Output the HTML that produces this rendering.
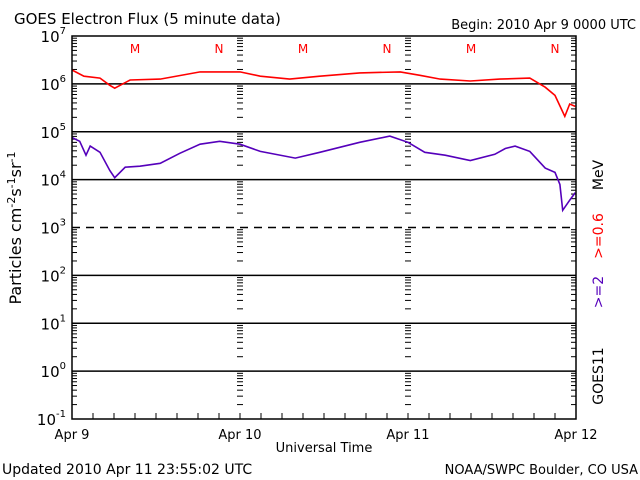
<!DOCTYPE html>
<html><head><meta charset="utf-8"><style>
body{margin:0;background:#fff;width:640px;height:480px;overflow:hidden}
svg{display:block;font-family:"DejaVu Sans","Liberation Sans",sans-serif}
</style></head><body>
<svg id="chart" width="640" height="480" xmlns="http://www.w3.org/2000/svg">
<text x="14" y="24" font-size="15">GOES Electron Flux (5 minute data)</text>
<text x="636" y="29" font-size="13" text-anchor="end">Begin: 2010 Apr 9 0000 UTC</text>
<g id="grid"></g>
<g id="marks"></g>
<rect x="72" y="36" width="504" height="383" fill="none" stroke="#000" stroke-width="1.5"/>
<text transform="translate(21,228) rotate(-90)" font-size="16" text-anchor="middle">Particles cm<tspan dy="-6" font-size="11">-2</tspan><tspan dy="6">s</tspan><tspan dy="-6" font-size="11">-1</tspan><tspan dy="6">sr</tspan><tspan dy="-6" font-size="11">-1</tspan></text>
<text x="324" y="452" font-size="13" text-anchor="middle">Universal Time</text>
<text transform="translate(603,376) rotate(-90)" font-size="14" text-anchor="middle" fill="#000">GOES11</text>
<text transform="translate(603,292) rotate(-90)" font-size="14" text-anchor="middle" fill="#5500bb">&gt;=2</text>
<text transform="translate(603,236) rotate(-90)" font-size="14" text-anchor="middle" fill="#ff0000">&gt;=0.6</text>
<text transform="translate(603,175) rotate(-90)" font-size="14" text-anchor="middle" fill="#000">MeV</text>
<text x="2" y="474" font-size="14">Updated 2010 Apr 11 23:55:02 UTC</text>
<text x="638" y="474" font-size="13" text-anchor="end">NOAA/SWPC Boulder, CO USA</text>
</svg>
<script>
const dayLabels = ["Apr 9","Apr 10","Apr 11","Apr 12"];
const decades = [7,6,5,4,3,2,1,0,-1];
const mnLabels = ["M","N","M","N","M","N"];
const mnHours = [9,21,33,45,57,69];
const redHours = [0,1.7,4,5.4,6.1,8.3,12.6,18.3,24,26.9,31.1,35.4,41.1,46.9,49.7,52.6,56.9,61.1,65.4,67.6,69,70.4,71.1,71.9];
const redLog = [6.29,6.16,6.12,5.97,5.91,6.08,6.10,6.25,6.25,6.16,6.10,6.16,6.23,6.25,6.18,6.10,6.06,6.10,6.12,5.93,5.76,5.32,5.58,5.53];
const purHours = [0,1.1,2,2.6,4,5.4,6.1,7.6,9.7,12.6,15.4,18.3,21.1,24,26.9,31.9,35.4,41.1,45.4,48,50.4,53.3,56.9,60.4,61.9,63.3,65.4,67.6,69,69.7,70.1,71.1,71.9];
const purLog = [4.88,4.80,4.51,4.70,4.57,4.19,4.04,4.26,4.28,4.34,4.55,4.74,4.80,4.74,4.59,4.45,4.57,4.78,4.91,4.78,4.57,4.51,4.40,4.53,4.65,4.70,4.59,4.24,4.15,3.90,3.36,3.57,3.73];

const X0=72,X1=576,Y0=36,Y1=419;
const xs=h=>X0+(X1-X0)*h/72;
const ys=l=>Y0+(Y1-Y0)*(7-l)/8;
const NS="http://www.w3.org/2000/svg";
const grid=document.getElementById('grid'), marks=document.getElementById('marks');
function mk(tag,attrs,parent){const e=document.createElementNS(NS,tag);for(const k in attrs)e.setAttribute(k,attrs[k]);parent.appendChild(e);return e;}

decades.forEach((d,i)=>{
  const y=ys(d);
  if(d<7&&d>-1){
    const l=mk('line',{x1:X0,x2:X1,y1:y,y2:y,stroke:'#000','stroke-width':1.5},grid);
    if(d===3)l.setAttribute('stroke-dasharray','8,6');
    
    
  }
  const t=mk('text',{x:X0-6,y:y+6,'font-size':15,'text-anchor':'end'},grid);
  t.innerHTML='10<tspan dy="-8" font-size="10">'+d+'</tspan>';
  
  
  if(d>-1){
    for(let m=2;m<=9;m++){
      const yy=ys(d-1+Math.log10(m));
      [[X0,X0+5],[X1-5,X1],[xs(24)-3,xs(24)+3],[xs(48)-3,xs(48)+3]].forEach(p=>{
        const tk=mk('line',{x1:p[0],x2:p[1],y1:yy,y2:yy,stroke:'#000','stroke-width':1},grid);
        
        
      });
    }
  }
});
for(let h=3;h<72;h+=3){
  const tk=mk('line',{x1:xs(h),x2:xs(h),y1:Y1,y2:Y1-6,stroke:'#000','stroke-width':1},grid);
  
  
}
dayLabels.forEach((s,i)=>{
  const t=mk('text',{x:xs(i*24),y:439,'font-size':13,'text-anchor':'middle'},grid);
  t.textContent=s;
  
  
});
mnLabels.forEach((s,i)=>{
  const t=mk('text',{x:xs(mnHours[i]),y:53,'font-size':12,'text-anchor':'middle',fill:'#ff0000'},grid);
  t.textContent=s;
  
  
});
function series(hours,logs,color,name){
  const pts=hours.map((h,i)=>xs(h).toFixed(1)+','+ys(logs[i]).toFixed(1)).join(' ');
  const p=mk('polyline',{points:pts,fill:'none',stroke:color,'stroke-width':1.6},marks);
  
  
}
series(redHours,redLog,'#ff0000','electron-0.6mev-line');
series(purHours,purLog,'#5500bb','electron-2mev-line');
</script>
</body></html>
